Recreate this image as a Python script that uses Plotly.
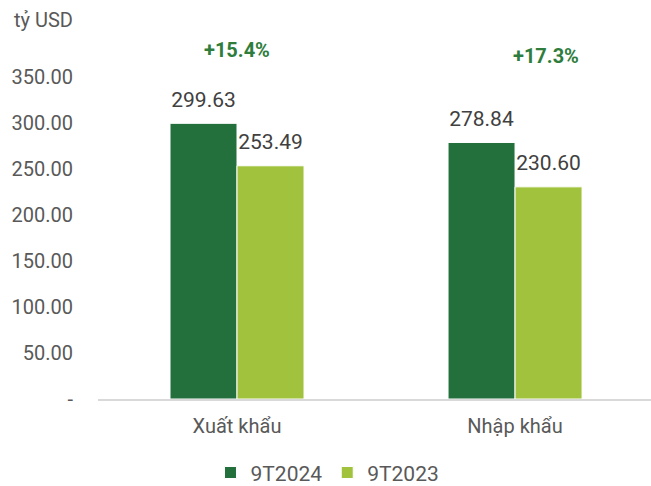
import plotly.graph_objects as go

categories = ["Xuất khẩu", "Nhập khẩu"]
series_names = ["9T2024", "9T2023"]
values_2024 = [299.63, 278.84]
values_2023 = [253.49, 230.60]
growth_labels = ["+15.4%", "+17.3%"]
tick_vals = [0, 50, 100, 150, 200, 250, 300, 350]
tick_text = ["-", "50.00", "100.00", "150.00", "200.00", "250.00", "300.00", "350.00"]

dark = "#23703d"
light = "#a0c23c"
font_family = "Roboto, Arial, sans-serif"


def label(v):
    return f"<span style='font-size:21px'>{v:.2f}</span><br> "


fig = go.Figure()
fig.add_trace(go.Bar(
    x=categories, y=values_2024, name=series_names[0],
    marker=dict(color=dark, line=dict(color="white", width=1)),
    text=[label(v) for v in values_2024], textposition="outside",
    textfont=dict(size=9, color="#404040", family=font_family),
    cliponaxis=False,
))
fig.add_trace(go.Bar(
    x=categories, y=values_2023, name=series_names[1],
    marker=dict(color=light, line=dict(color="white", width=1)),
    text=[label(v) for v in values_2023], textposition="outside",
    textfont=dict(size=9, color="#404040", family=font_family),
    cliponaxis=False,
))

fig.add_annotation(x=0, y=379, xref="x", yref="y", text=f"<b>{growth_labels[0]}</b>",
                   showarrow=False, font=dict(size=20, color="#2e7d3c", family=font_family))
fig.add_annotation(x=1.11, y=373, xref="x", yref="y", text=f"<b>{growth_labels[1]}</b>",
                   showarrow=False, font=dict(size=20, color="#2e7d3c", family=font_family))
fig.add_annotation(x=(12 - 98) / 553, y=(486 - 87 - 20) / 368, xref="paper", yref="paper",
                   text="tỷ USD", xanchor="left", yanchor="middle",
                   showarrow=False, font=dict(size=20, color="#595959", family=font_family))

fig.update_layout(
    width=651, height=486,
    margin=dict(l=98, r=0, t=31, b=87, autoexpand=False),
    paper_bgcolor="white", plot_bgcolor="white",
    barmode="group", bargap=0.518, bargroupgap=0,
    font=dict(family=font_family, size=20, color="#595959"),
    showlegend=True,
    legend=dict(orientation="h", x=0.415, xanchor="center", y=-0.145, yanchor="top",
                font=dict(size=21, color="#595959"), itemwidth=30),
)
fig.update_xaxes(range=[-0.5, 1.489], showline=True, linecolor="#d9d9d9", linewidth=2,
                 ticks="", tickfont=dict(size=20, color="#595959"), showgrid=False,
                 automargin=False, ticklabelstandoff=8)
fig.update_yaxes(range=[0, 400], tickvals=tick_vals, ticktext=tick_text, showgrid=False,
                 zeroline=False, showline=False, ticks="", ticklabelstandoff=24,
                 automargin=False, tickfont=dict(size=20, color="#595959"))

fig.write_html("out.html", config={"displayModeBar": False},
               post_script="document.body.style.margin='0';document.body.style.padding='0';")
